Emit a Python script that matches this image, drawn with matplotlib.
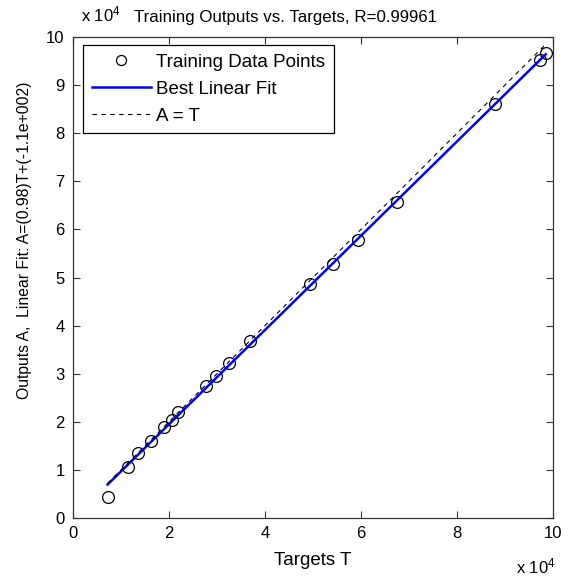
import matplotlib
matplotlib.use("Agg")
import matplotlib.pyplot as plt
from matplotlib.ticker import FuncFormatter, MultipleLocator
import numpy as np

plt.rcParams["font.family"] = ["Liberation Sans", "DejaVu Sans"]
plt.rcParams["mathtext.fontset"] = "custom"
plt.rcParams["mathtext.rm"] = "Liberation Sans"
plt.rcParams["mathtext.it"] = "Liberation Sans"

# targets T and outputs A
targets = [7200, 11400, 13600, 16250, 19000, 20600, 21900, 27700, 29800,
           32400, 36900, 49400, 54200, 59400, 67400, 87900, 97300, 98500]
outputs = [4400, 10700, 13600, 16100, 19000, 20400, 22100, 27400, 29500,
           32300, 36700, 48600, 52900, 57700, 65600, 86100, 95200, 96600]
fit_slope = 0.98
fit_offset = -110
r_value = 0.99961

t = np.array(targets, dtype=float)
a = np.array(outputs, dtype=float)
t_line = np.array([t.min(), t.max()])

W, H = 568, 578
fig = plt.figure(figsize=(W / 100, H / 100), dpi=100)
ax = fig.add_axes([73 / W, 60 / H, 480 / W, 481 / H])

ax.plot(t, a, "o", mfc="none", mec="black", ms=8.5, mew=0.9,
        label="Training Data Points")
ax.plot(t_line, fit_slope * t_line + fit_offset, color="#0000ff", lw=1.8,
        label="Best Linear Fit")
ax.plot(t_line, t_line, color="black", lw=0.8, ls=(0, (4, 4)), label="A = T")

ax.set_xlim(0, 100000)
ax.set_ylim(0, 100000)
ax.xaxis.set_major_locator(MultipleLocator(20000))
ax.yaxis.set_major_locator(MultipleLocator(10000))
fmt = FuncFormatter(lambda v, pos: f"{v / 1e4:g}")
ax.xaxis.set_major_formatter(fmt)
ax.yaxis.set_major_formatter(fmt)
ax.tick_params(direction="in", length=5, width=0.8, top=True, right=True,
               labelsize=12, colors="#333333", labelcolor="black", pad=6)
for s in ax.spines.values():
    s.set_color("#333333")
    s.set_linewidth(0.9)

offset_str = ("%.1e" % fit_offset).replace("e+02", "e+002")
ax.set_xlabel("Targets T", fontsize=13.5, labelpad=8)
ax.set_ylabel(f"Outputs A,  Linear Fit: A=({fit_slope:.2g})T+({offset_str})",
              fontsize=11.3, labelpad=10, y=0.578)
ax.set_title(f"Training Outputs vs. Targets, R={r_value:.5f}", fontsize=12.2,
             pad=11, x=0.4417)

# x 10^4 multipliers
fig.text(81 / W, 1 - 21 / H, r"x 10$^{4}$", fontsize=12, ha="left", va="baseline")
fig.text(556 / W, 1 - 573 / H, r"x 10$^{4}$", fontsize=12, ha="right", va="baseline")

leg = ax.legend(loc="upper left", bbox_to_anchor=(0.021, 0.983), fontsize=13.5,
                fancybox=False, framealpha=1, edgecolor="black", numpoints=1,
                handlelength=3.15, handletextpad=0.3, borderpad=0.45,
                labelspacing=0.53, borderaxespad=0, markerscale=0.85)
leg.get_frame().set_linewidth(0.9)

fig.savefig("out.png", dpi=100)
